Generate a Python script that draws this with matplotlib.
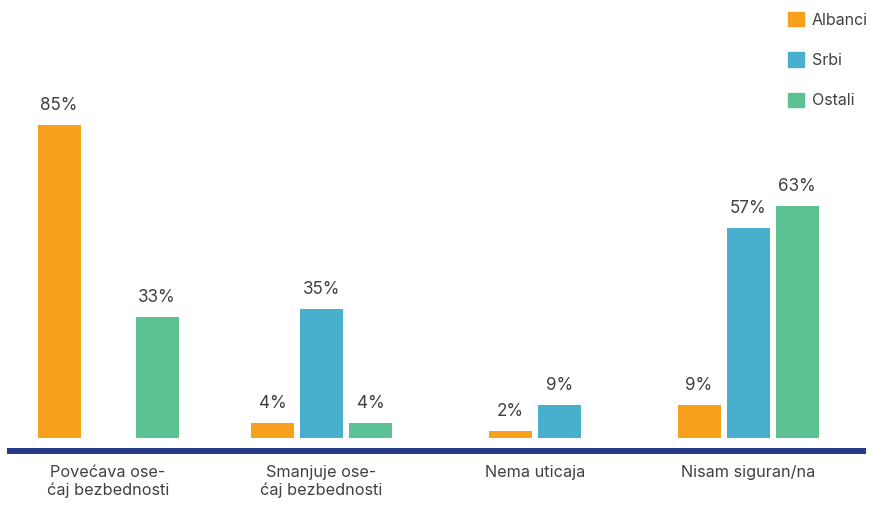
import matplotlib.pyplot as plt
import numpy as np

categories = ['Povećava ose-\nćaj bezbednosti', 'Smanjuje ose-\nćaj bezbednosti',
              'Nema uticaja', 'Nisam siguran/na']
series = ['Albanci', 'Srbi', 'Ostali']
albanci = [85, 4, 2, 9]
srbi = [0, 35, 9, 57]
ostali = [33, 4, None, 63]
colors = ['#F7A01D', '#48B0CD', '#5CC293']

text_color = '#404040'
plt.rcParams['font.family'] = ['Inter', 'DejaVu Sans']

fig = plt.figure(figsize=(8.71, 5.05), dpi=100)
# axes in pixel terms: left 7, right 866, bottom 438, top 70
W, H = 871, 505
ax = fig.add_axes([7 / W, (H - 438) / H, (866 - 7) / W, (438 - 70) / H])

step = 0.2297
width = 0.2016
for i in range(len(categories)):
    vals = [albanci[i], srbi[i], ostali[i]]
    present = [k for k, v in enumerate(vals) if v is not None]
    n = len(present)
    for j, k in enumerate(present):
        x = i + (j - (n - 1) / 2) * step
        v = vals[k]
        if v == 0:
            continue
        ax.bar(x, v, width=width, color=colors[k])
        ax.text(x, v + 3, f'{v}%', ha='center', va='bottom', fontsize=12.3,
                color=text_color)

ax.set_xlim(-0.4735, 3.553)
ax.set_ylim(0, 100)
ax.set_yticks([])
ax.set_xticks(range(len(categories)))
ax.tick_params(axis='x', length=0, pad=10, labelsize=11.7, labelcolor=text_color)
ax.set_xticklabels(categories)
for lbl in ax.get_xticklabels():
    lbl.set_linespacing(1.42)
    lbl.set_fontsize(11.7)
for s in ['top', 'left', 'right']:
    ax.spines[s].set_visible(False)
ax.spines['bottom'].set_position(('outward', 9.4))
ax.spines['bottom'].set_color('#253A8A')
ax.spines['bottom'].set_linewidth(4.3)
ax.spines['bottom'].set_capstyle('butt')

handles = [plt.Rectangle((0, 0), 1, 1, color=c) for c in colors]
fig.legend(handles, series, loc='upper left', bbox_to_anchor=(788 / W, 1 - 12 / H),
           frameon=False, fontsize=11.5, handlelength=1.0, handleheight=1.0,
           labelspacing=1.55, handletextpad=0.5, borderpad=0, borderaxespad=0,
           labelcolor=text_color)

fig.savefig('out.png', dpi=100)
